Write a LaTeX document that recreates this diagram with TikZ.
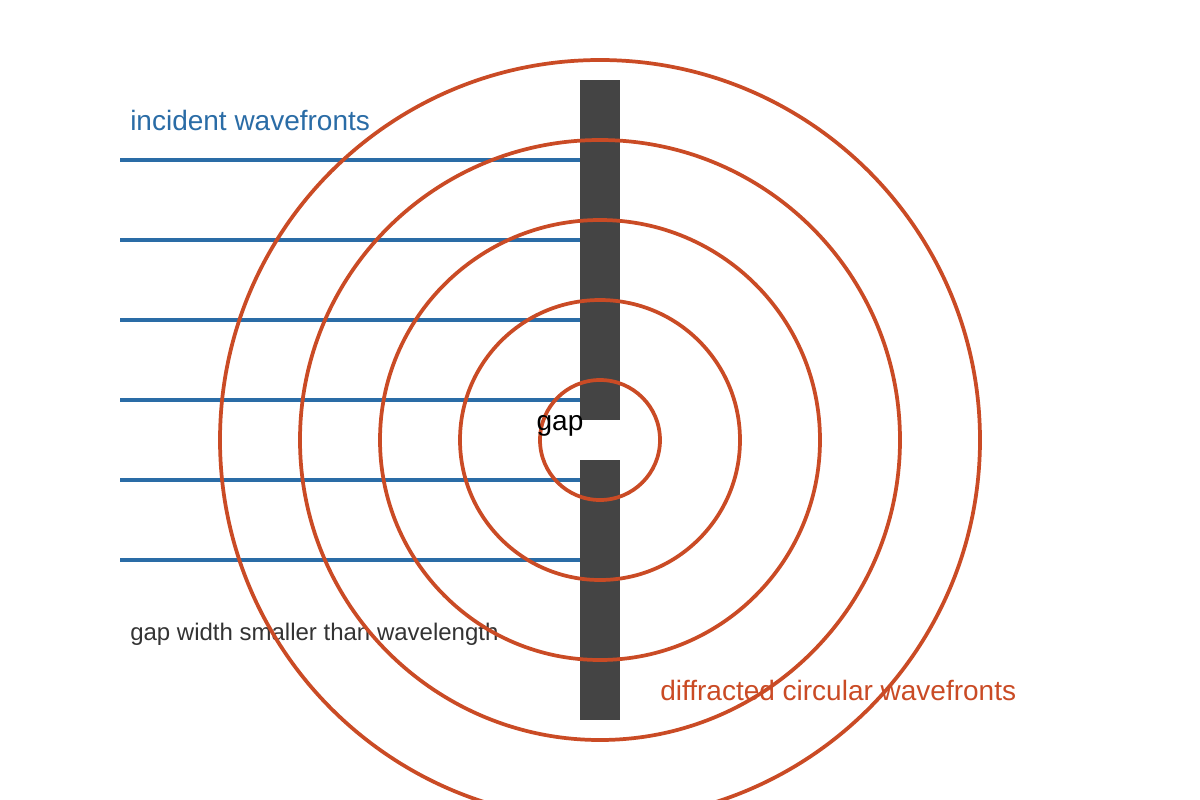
\documentclass[tikz,border=0pt]{standalone}
\usepackage{fontspec}
\setmainfont{Liberation Sans}
\definecolor{wblue}{HTML}{2A6CA6}
\definecolor{worange}{HTML}{CA4B25}
\definecolor{wgray}{HTML}{444444}
\definecolor{wtext}{HTML}{333333}
\tikzset{
  incident/.style={draw=wblue, line width=2.6pt},
  ring/.style={draw=worange, line width=2.8pt},
  barrier/.style={fill=wgray, draw=none},
  bigtxt/.style={inner sep=0pt, font=\fontsize{21}{25}\selectfont},
  smalltxt/.style={inner sep=0pt, font=\fontsize{18}{22}\selectfont},
}
\begin{document}
\begin{tikzpicture}[x=0.75pt,y=-0.75pt]
\clip (0,0) rectangle (1200,800);
\fill[white] (0,0) rectangle (1200,800);
% barrier
\fill[barrier] (580,80) rectangle (620,420);
\fill[barrier] (580,460) rectangle (620,720);
\coordinate (wall) at (580,0);
% incident wavefronts
\foreach \yy in {160,240,320,400,480,560}{
  \coordinate (s\yy) at (120,\yy);
  \draw[incident] (s\yy) -- (wall |- s\yy);
}
% labels
\node[bigtxt, text=wblue, anchor=base west] (inc) at (130,130) {incident wavefronts};
\node[smalltxt, text=wtext, anchor=base west] (gw) at (130,640) {gap width smaller than wavelength};
\node[bigtxt, text=worange, anchor=base west] (dif) at (660,700) {diffracted circular wavefronts};
% diffracted rings
\coordinate (c) at (600,440);
\foreach \r in {45,105,165,225,285}{
  \draw[ring] (c) circle[radius=\r pt];
}
\node[bigtxt, text=black, anchor=base] (gap) at (560,430) {gap};
\end{tikzpicture}
\end{document}
